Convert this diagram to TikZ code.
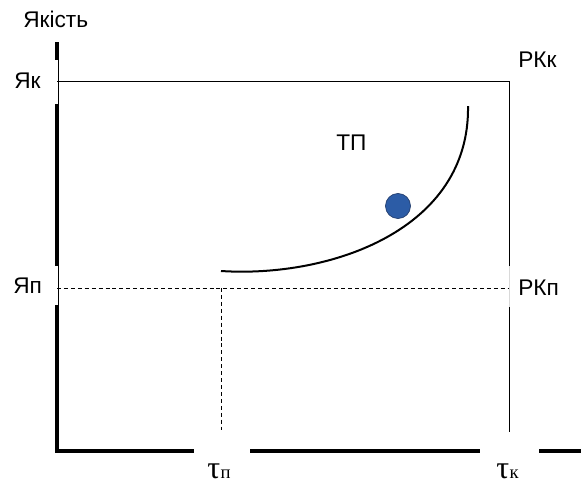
\documentclass[tikz,border=0pt]{standalone}
\usepackage{fontspec}
\setmainfont{Liberation Sans}
\newfontfamily\timesf{Liberation Serif}
\usetikzlibrary{positioning}
\definecolor{dotblue}{RGB}{44,92,166}
\definecolor{dotedge}{RGB}{36,62,110}
\definecolor{thin}{RGB}{120,120,120}
\tikzset{
  every node/.style={font=\fontsize{17}{19}\selectfont,inner sep=0pt},
  axis/.style={line width=2.6pt,black},
  gridl/.style={line width=0.8pt,thin},
  bound/.style={line width=0.7pt,black},
  guide/.style={line width=0.6pt,black,dash pattern=on 3pt off 2.2pt},
  tpcurve/.style={line width=1.5pt,black},
  dot/.style={circle,fill=dotblue,draw=dotedge,line width=0.5pt,minimum size=18.8pt},
  taulbl/.style={font=\timesf\fontsize{24}{26}\selectfont},
  tausub/.style={font=\timesf\fontsize{14}{16}\selectfont},
}

\begin{document}
\begin{tikzpicture}[x=0.75pt,y=-0.75pt]
  \useasboundingbox (0,0) rectangle (581,486);
  % marks on the axes (pixel grid of the picture)
  \coordinate (yk) at (57,81);
  \coordinate (yp) at (57,288);
  \coordinate (rkk) at (509,81);
  \coordinate (rkp) at (509,288);
  \coordinate (tp) at (221,288);
  \coordinate (tpend) at (221,430);
  \coordinate (rkend) at (509,432);
  \coordinate (orig) at (57,451);

  % axes, broken at the labels
  \draw[axis] (57,42) -- (57,60);
  \draw[axis] (57,104) -- (57,266);
  \draw[axis,line cap=rect] (57,307) -- (orig) -- (192,451);
  \draw[axis] (250,451) -- (480,451);
  \draw[axis] (539,451) -- (581,451);
  \draw[gridl] (58,60) -- (58,104);
  \draw[gridl] (58,266) -- (58,307);

  % final quality level and end of the period
  \draw[gridl] (yk) -- (rkk);
  \draw[bound] (rkk) -- (509,266);
  \draw[line width=0.5pt,black!15] (509,266) -- (509,307);
  \draw[bound] (509,307) -- (rkend);

  % initial level
  \draw[guide] (yp) -- (rkp);
  \draw[guide] (tp) -- (tpend);

  % trajectory and current state
  \coordinate (tpa) at (221,271);
  \coordinate (tpb) at (468,106);
  \draw[tpcurve] (tpa) .. controls (330,278) and (470,230) .. (tpb);
  \node[dot] (pt) at (398,206) {};

  % labels
  \node[anchor=base west] (quality) at (23,27) {Якість};
  \node[anchor=base west] (yklbl) at (14,88) {Як};
  \node[anchor=base west] (yplbl) at (13,293) {Яп};
  \node[anchor=base west] (rkklbl) at (518,67) {РКк};
  \node[anchor=base west] (rkplbl) at (518,295) {РКп};
  \node[anchor=base west] (tplbl) at (336,150) {ТП};
  \node[taulbl,anchor=base west] (taup) at (207,478) {τ};
  \node[tausub,anchor=base west] (taupsub) at (taup.base east) {п};
  \node[taulbl,anchor=base west] (tauk) at (496,478) {τ};
  \node[tausub,anchor=base west] (tauksub) at (tauk.base east) {к};
\end{tikzpicture}
\end{document}
